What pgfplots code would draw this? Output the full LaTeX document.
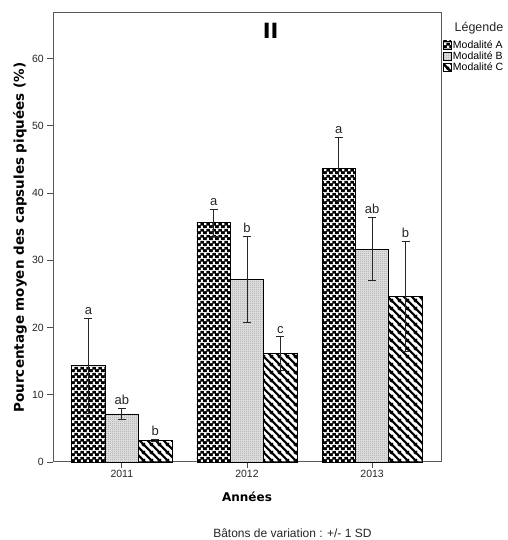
\documentclass[border=0pt]{standalone}
\usepackage{fontspec}
\setmainfont{Liberation Sans}
\newfontfamily\djv{DejaVu Sans}
\usepackage{pgfplots}
\pgfplotsset{compat=1.18}
\usetikzlibrary{patterns.meta}

\tikzdeclarepattern{
  name=checkA, type=colored,
  bottom left={(0pt,0pt)}, top right={(6pt,6pt)}, tile size={(6pt,6pt)},
  code={\fill[black] (0pt,0pt) rectangle (6pt,6pt);
        \fill[white] (0.25pt,3.25pt) rectangle (2.75pt,5.75pt);
        \fill[white] (3.25pt,0.25pt) rectangle (5.75pt,2.75pt);}
}
\tikzdeclarepattern{
  name=dotsB, type=uncolored,
  bottom left={(0pt,0pt)}, top right={(2pt,2pt)}, tile size={(2pt,2pt)},
  code={\fill (0pt,0pt) rectangle (1pt,1pt);}
}
\tikzdeclarepattern{
  name=diagC, type=uncolored,
  bottom left={(0pt,0pt)}, top right={(8pt,8pt)}, tile size={(8pt,8pt)},
  code={\draw[line width=2.5pt] (-1pt,9pt) -- (9pt,-1pt);
        \draw[line width=2.5pt] (-1pt,1pt) -- (1pt,-1pt);
        \draw[line width=2.5pt] (7pt,9pt) -- (9pt,7pt);}
}

\pgfplotstableread{
x y e
-0.2667 14.3 7.1
0.7333 35.6 2.0
1.7333 43.65 4.7
}\dataA
\pgfplotstableread{
x y e
0 7.15 0.85
1 27.2 6.4
2 31.65 4.7
}\dataB
\pgfplotstableread{
x y e
0.2667 3.2 0.15
1.2667 16.1 2.5
2.2667 24.65 8.2
}\dataC

\begin{document}
\begin{tikzpicture}
\useasboundingbox (0,0) rectangle (507pt,540pt);
\begin{axis}[
  at={(53pt,78pt)}, anchor=south west,
  scale only axis, width=388pt, height=449pt,
  xmin=-0.55, xmax=2.55, ymin=0, ymax=66.8,
  xtick={0,1,2}, xticklabels={2011,2012,2013},
  ytick={0,10,20,30,40,50,60},
  tick pos=left, tick align=outside, major tick length=6pt,
  tick style={black!70, line width=0.9pt},
  axis line style={black!65, line width=1pt},
  ticklabel style={font=\fontsize{10.5}{12}\selectfont, text=black!85},
  /pgf/number format/assume math mode=true,
  yticklabel style={inner sep=1pt, xshift=-2pt},
  xticklabel style={inner sep=1pt, yshift=-1pt},
  xlabel={\djv\bfseries Années},
  xlabel style={font=\fontsize{12}{14}\selectfont, at={(axis description cs:0.5,-0.078)}, anchor=center},
  ylabel={\djv\bfseries Pourcentage moyen des capsules piquées (\%)},
  ylabel style={font=\fontsize{13.5}{15}\selectfont, at={(axis description cs:-0.085,0.5)}, anchor=center},
  legend style={at={(axis description cs:1.004,0.943)}, anchor=north west, draw=none, fill=none,
    font=\fontsize{10.5}{11}\selectfont, inner sep=0pt, row sep=-1pt,
    nodes={inner sep=1.5pt}},
  legend cell align=left,
  clip=false,
]
\pgfplotsset{mylegend/.style={legend image code/.code={\draw[##1, draw=black, line width=0.7pt] (0pt,-4pt) rectangle (8pt,4pt);}}}
\addplot[ybar, bar width=0.2667, bar shift=0pt, draw=black, line width=0.8pt,
  pattern=checkA, mylegend,
  error bars/.cd, y dir=both, y explicit, error mark=-,
  error bar style={line width=1pt, black!85},
  error mark options={rotate=90, line width=1pt, black!85, mark size=4pt}]
  table[x=x, y=y, y error=e] {\dataA};
\addlegendentry{Modalité A}
\addplot[ybar, bar width=0.2667, bar shift=0pt, draw=black, line width=0.8pt,
  fill=black!14, postaction={pattern=dotsB, pattern color=black!45}, mylegend,
  error bars/.cd, y dir=both, y explicit, error mark=-,
  error bar style={line width=1pt, black!85},
  error mark options={rotate=90, line width=1pt, black!85, mark size=4pt}]
  table[x=x, y=y, y error=e] {\dataB};
\addlegendentry{Modalité B}
\addplot[ybar, bar width=0.2667, bar shift=0pt, draw=black, line width=0.8pt,
  pattern=diagC, pattern color=black, mylegend,
  error bars/.cd, y dir=both, y explicit, error mark=-,
  error bar style={line width=1pt, black!85},
  error mark options={rotate=90, line width=1pt, black!85, mark size=4pt}]
  table[x=x, y=y, y error=e] {\dataC};
\addlegendentry{Modalité C}

\begin{scope}[every node/.style={anchor=south, inner sep=1pt, yshift=2.5pt, font=\fontsize{13}{15}\selectfont, text=black!85}]
\node at (axis cs:-0.2667,21.4) {a};
\node at (axis cs:0,8.0) {ab};
\node at (axis cs:0.2667,3.35) {b};
\node at (axis cs:0.7333,37.6) {a};
\node at (axis cs:1,33.6) {b};
\node at (axis cs:1.2667,18.6) {c};
\node at (axis cs:1.7333,48.35) {a};
\node at (axis cs:2,36.35) {ab};
\node at (axis cs:2.2667,32.85) {b};
\end{scope}

\node[font=\djv\bfseries\fontsize{21}{24}\selectfont] at (axis description cs:0.561,0.96) {II};
\node[anchor=west, font=\fontsize{12.5}{14}\selectfont, text=black!85] at (axis description cs:1.026,0.967) {Légende};
\node[font=\fontsize{12}{14}\selectfont, text=black!85] at (axis description cs:0.617,-0.158) {Bâtons de variation : +/- 1 SD};
\end{axis}
\end{tikzpicture}
\end{document}
